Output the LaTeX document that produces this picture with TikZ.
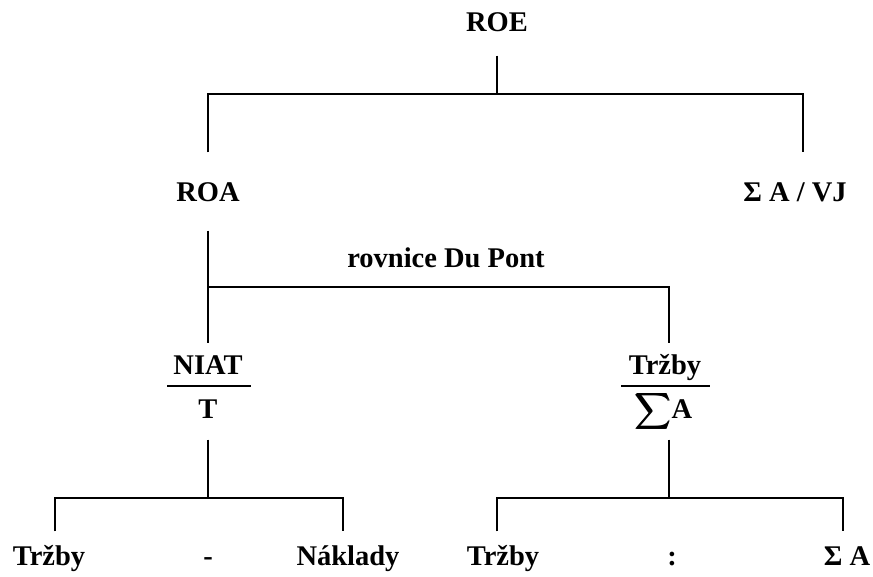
\documentclass[tikz,border=0pt]{standalone}
\usepackage{amsmath}
\usepackage{fontspec}
\setmainfont{Liberation Serif}
\tikzstyle{lbl}=[inner sep=0pt,anchor=base,text height=19pt,text depth=0pt,font=\bfseries\fontsize{28.5}{34}\selectfont]
\tikzstyle{link}=[line width=1.3pt]

\begin{document}
\begin{tikzpicture}[x=1pt,y=-1pt,link]
\useasboundingbox (0,0) rectangle (873,577);
% top levels
\node[lbl] (roe) at (497,32) {ROE};
\node[lbl] (roa) at (208,202) {ROA};
\node[lbl] (sva) at (795,202) {Σ A / VJ};
\node[lbl] (dup) at (446,268) {rovnice Du Pont};
% fractions
\node[lbl] (niat) at (208,374) {NIAT};
\node[lbl] (t) at (208,418) {T};
\node[lbl] (trz) at (665,374) {Tržby};
\node[lbl] (sa) at (664,418) {\fontsize{25}{30}\selectfont$\pmb{\displaystyle\sum}$\fontsize{28.5}{34}\selectfont A};
\draw (167,386) -- (251,386);
\draw (621,386) -- (710,386);
% bottom row
\node[lbl] (b1) at (49,565) {Tržby};
\node[lbl] (b2) at (208,565) {-};
\node[lbl] (b3) at (348,565) {Náklady};
\node[lbl] (b4) at (503,565) {Tržby};
\node[lbl] (b5) at (672,565) {:};
\node[lbl] (b6) at (847,565) {Σ A};
% tree
\coordinate (j1) at (497,94);
\coordinate (j2) at (208,287);
\coordinate (j3) at (208,498);
\coordinate (j4) at (669,498);
\draw[shorten <=23pt] (roe.south) -- (j1);
\draw[shorten <=30pt,shorten >=30pt] (roa.north) |- (j1) -| ([xshift=8pt]sva.north);
\draw[shorten <=28pt,shorten >=11pt] (roa.south) -- (niat.north);
\draw[shorten >=11pt] (j2) -| ([xshift=4pt]trz.north);
\draw[shorten <=21pt] (t.south) -- (j3);
\draw[shorten <=21pt] ([xshift=5pt]sa.south) -- (j4);
\draw[shorten <=14pt,shorten >=14pt] ([xshift=6pt]b1.north) |- (j3) -| ([xshift=-5pt]b3.north);
\draw[shorten <=14pt,shorten >=14pt] ([xshift=-6pt]b4.north) |- (j4) -| ([xshift=-4pt]b6.north);
\end{tikzpicture}
\end{document}
